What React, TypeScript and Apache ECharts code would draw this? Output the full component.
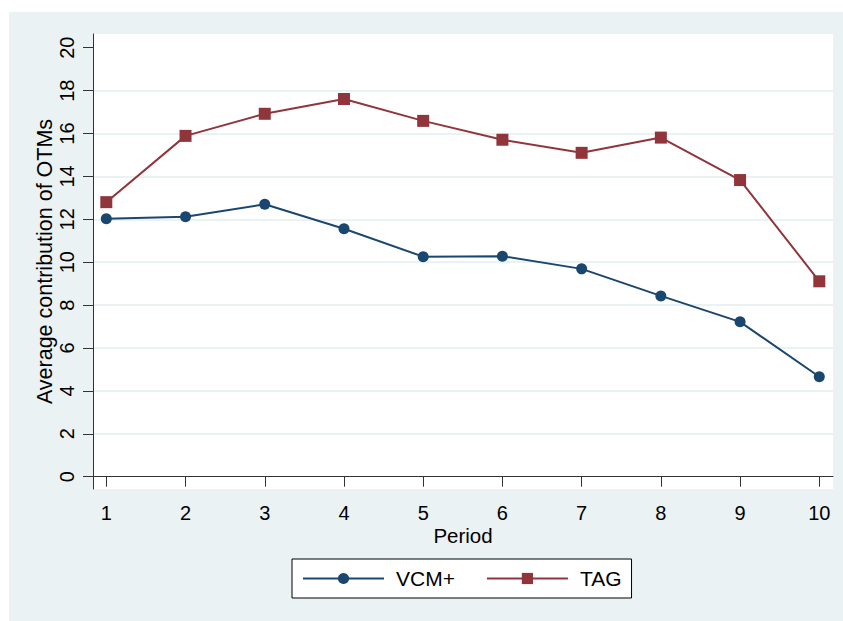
import React, { useEffect, useRef } from "react";
import * as echarts from "echarts";

const periods = [1, 2, 3, 4, 5, 6, 7, 8, 9, 10];
const vcmPlus = [12.03, 12.12, 12.7, 11.56, 10.26, 10.28, 9.69, 8.43, 7.22, 4.66];
const tag = [12.8, 15.89, 16.92, 17.61, 16.59, 15.71, 15.1, 15.81, 13.83, 9.11];
const yTicks = [0, 2, 4, 6, 8, 10, 12, 14, 16, 18, 20];
const yGridValues = [2, 4, 6, 8, 10, 12, 14, 16, 18];
const seriesNames = ["VCM+", "TAG"];
const xTitle = "Period";
const yTitle = "Average contribution of OTMs";

const FONT = "'Liberation Sans', Arial, Helvetica, sans-serif";
const NAVY = "#1A476F";
const MAROON = "#90353B";
const BG = "#EAF2F3";

export default function App() {
  const ref = useRef<HTMLDivElement>(null);
  useEffect(() => {
    if (!ref.current) return;
    const chart = echarts.init(ref.current, null, { renderer: "svg" });
    const gridLeft = 93, gridTop = 34, gridRight = 833, gridBottom = 489;
    chart.setOption({
      animation: false,
      textStyle: { fontFamily: FONT },
      graphic: [
        { type: "rect", z: -10, shape: { x: 9, y: 12, width: 834, height: 609 }, style: { fill: BG } },
        {
          type: "text", x: 45, y: (gridTop + gridBottom) / 2, rotation: Math.PI / 2,
          style: { text: yTitle, font: `21.5px ${FONT}`, fill: "#000", textAlign: "center", textVerticalAlign: "middle" },
        },
        {
          type: "text", x: (gridLeft + gridRight) / 2, y: 535,
          style: { text: xTitle, font: `20.5px ${FONT}`, fill: "#000", textAlign: "center", textVerticalAlign: "middle" },
        },
      ],
      grid: {
        left: gridLeft, top: gridTop, width: gridRight - gridLeft, height: gridBottom - gridTop,
        show: true, backgroundColor: "#fff", borderWidth: 0, borderColor: "transparent",
      },
      legend: {
        left: 292, top: 559, orient: "horizontal",
        backgroundColor: "#fff", borderColor: "#000", borderWidth: 1, borderRadius: 0,
        padding: [9, 10],
        itemWidth: 81, itemHeight: 14, itemGap: 31,
        textStyle: { fontSize: 21, color: "#000", fontFamily: FONT, padding: [0, 0, 0, 7] },
        data: seriesNames,
      },
      xAxis: {
        type: "value", min: 0.832, max: 10.173,
        axisLine: { show: true, lineStyle: { color: "#333", width: 1 } },
        axisTick: { show: true, length: 10, customValues: periods, lineStyle: { color: "#333" } },
        axisLabel: { customValues: periods, fontSize: 20, color: "#000", margin: 14, fontFamily: FONT },
        splitLine: { show: false },
      },
      yAxis: [
        {
          type: "value", min: -0.573, max: 20.64, position: "left",
          axisLine: { show: true, lineStyle: { color: "#333", width: 1 } },
          axisTick: { show: true, length: 10, customValues: yTicks, lineStyle: { color: "#333" } },
          axisLabel: { customValues: yTicks, fontSize: 20, color: "#000", rotate: 90, margin: 16, fontFamily: FONT },
          splitLine: { show: false },
        },
        {
          type: "value", min: -0.573, max: 20.64, position: "left",
          axisLine: { show: false },
          axisTick: { show: false, customValues: yGridValues },
          axisLabel: { show: false, customValues: yGridValues },
          splitLine: { show: true, lineStyle: { color: BG, width: 2 } },
        },
      ],
      series: [
        {
          name: seriesNames[0], type: "line", yAxisIndex: 0,
          data: periods.map((p, i) => [p, vcmPlus[i]]),
          symbol: "circle", symbolSize: 11, color: NAVY,
          lineStyle: { color: NAVY, width: 2 }, itemStyle: { color: NAVY },
        },
        {
          name: seriesNames[1], type: "line", yAxisIndex: 0,
          data: periods.map((p, i) => [p, tag[i]]),
          symbol: "rect", symbolSize: 12, color: MAROON,
          lineStyle: { color: MAROON, width: 2 }, itemStyle: { color: MAROON },
        },
      ],
    });
    return () => chart.dispose();
  }, []);
  return (
    <div style={{ position: "fixed", left: 0, top: 0, width: 843, height: 621, background: "#fff" }}>
      <div ref={ref} style={{ width: 843, height: 621 }} />
    </div>
  );
}
